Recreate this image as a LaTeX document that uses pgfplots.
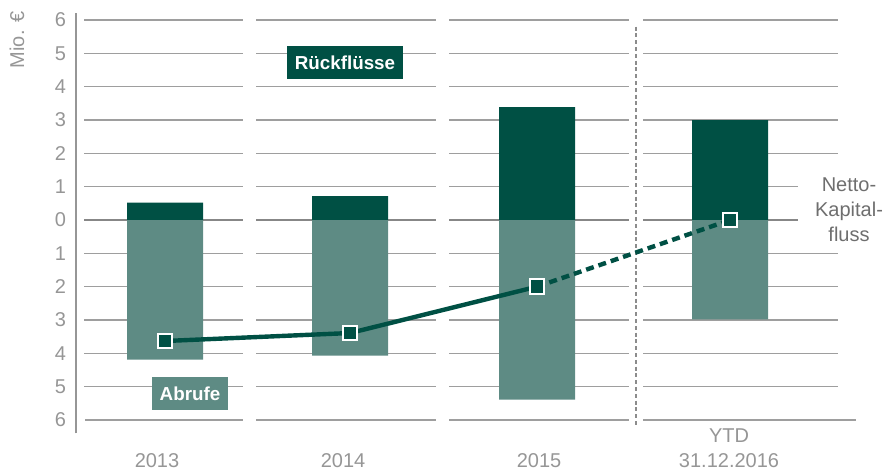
\documentclass[border=0pt]{standalone}
\usepackage{pgfplots}
\pgfplotsset{compat=1.18}
\usepackage{fontspec}
\setmainfont{Liberation Sans}
\definecolor{darkg}{RGB}{0,80,68}
\definecolor{lightg}{RGB}{94,139,132}
\definecolor{gridc}{RGB}{158,158,158}
\definecolor{zeroc}{RGB}{135,135,135}
\definecolor{labc}{RGB}{150,150,150}
\definecolor{sepc}{RGB}{140,140,140}
\definecolor{netc}{RGB}{110,110,110}
\begin{document}
\begin{tikzpicture}
\begin{axis}[
  scale only axis,
  width=390pt, height=210pt,
  xmin=76, xmax=856, ymin=-6.4, ymax=6.2,
  clip=false,
  axis x line*=bottom, axis y line*=left,
  x axis line style={draw=none},
  y axis line style={-, draw=labc, line width=0.6pt},
  tick style={draw=none},
  ytick={-6,-5,-4,-3,-2,-1,0,1,2,3,4,5,6},
  yticklabels={6,5,4,3,2,1,0,1,2,3,4,5,6},
  xtick={157,343,539,729},
  xticklabels={2013,2014,2015,{YTD\\31.12.2016}},
  ticklabel style={font=\fontsize{10}{12.5}\selectfont, text=labc},
  yticklabel style={anchor=east, inner sep=0pt, xshift=-4.75pt},
  xticklabel style={anchor=south, inner sep=0pt, align=center, yshift=-17.35pt},
]
% segmented grid lines
\pgfplotsinvokeforeach{-5,-4,-3,-2,-1,2,3,4,5,6}{
  \draw[gridc, line width=0.65pt] (axis cs:84,#1) -- (axis cs:243,#1);
  \draw[gridc, line width=0.65pt] (axis cs:256,#1) -- (axis cs:436,#1);
  \draw[gridc, line width=0.65pt] (axis cs:449,#1) -- (axis cs:629,#1);
  \draw[gridc, line width=0.65pt] (axis cs:643,#1) -- (axis cs:838,#1);
}
\draw[gridc, line width=0.65pt] (axis cs:84,1) -- (axis cs:243,1);
\draw[gridc, line width=0.65pt] (axis cs:256,1) -- (axis cs:436,1);
\draw[gridc, line width=0.65pt] (axis cs:449,1) -- (axis cs:629,1);
\draw[gridc, line width=0.65pt] (axis cs:643,1) -- (axis cs:798,1);
\draw[gridc, line width=0.65pt] (axis cs:85,-6) -- (axis cs:243,-6);
\draw[gridc, line width=0.65pt] (axis cs:256,-6) -- (axis cs:436,-6);
\draw[gridc, line width=0.65pt] (axis cs:449,-6) -- (axis cs:629,-6);
\draw[gridc, line width=0.65pt] (axis cs:643,-6) -- (axis cs:856,-6);
\draw[zeroc, line width=1pt] (axis cs:84,0) -- (axis cs:243,0);
\draw[zeroc, line width=1pt] (axis cs:256,0) -- (axis cs:436,0);
\draw[zeroc, line width=1pt] (axis cs:449,0) -- (axis cs:629,0);
\draw[zeroc, line width=1pt] (axis cs:643,0) -- (axis cs:798,0);
% separator
\draw[sepc, line width=1.1pt, dash pattern=on 2pt off 1.4pt] (axis cs:636,5.8) -- (axis cs:636,-6.2);
% bars
\addplot[ybar, bar width=76, bar shift=0, fill=darkg, draw=none]
  coordinates {(165,0.52) (350,0.72) (537,3.39) (730,3.0)};
\addplot[ybar, bar width=76, bar shift=0, fill=lightg, draw=none]
  coordinates {(165,-4.19) (350,-4.07) (537,-5.39) (730,-2.98)};
% net capital flow
\addplot[darkg, line width=2.2pt, no marks] coordinates {(165,-3.63) (350,-3.39) (537,-2.0)};
\addplot[darkg, line width=2.2pt, no marks, dash pattern=on 4pt off 2.5pt] coordinates {(537,-2.0) (730,0)};
\addplot[only marks, mark=square*, mark size=3.7pt, mark options={fill=darkg, draw=white, line width=1pt}]
  coordinates {(165,-3.63) (350,-3.39) (537,-2.0) (730,0)};
% labels
\node[fill=darkg, text=white, font=\bfseries\fontsize{9.4}{11}\selectfont, minimum width=58pt, minimum height=16.4pt, inner sep=0pt] at (axis cs:345,4.73) {Rückflüsse};
\node[fill=lightg, text=white, font=\bfseries\fontsize{9.4}{11}\selectfont, minimum width=38pt, minimum height=16.4pt, inner sep=0pt] at (axis cs:190,-5.205) {Abrufe};
\node[text=netc, font=\fontsize{10}{12.5}\selectfont, align=center, inner sep=0pt, anchor=center] at (axis cs:849,0.30) {Netto-\\Kapital-\\fluss};
\node[text=labc, font=\fontsize{10}{12.5}\selectfont, rotate=90, inner sep=0pt, anchor=center] at (axis cs:17,5.4) {Mio. €};
\coordinate (bl) at (axis cs:0,-7.53);
\coordinate (tr) at (axis cs:886,6.6);
\end{axis}
\pgfresetboundingbox
\path[use as bounding box] (bl) rectangle (tr);
\end{tikzpicture}
\end{document}
